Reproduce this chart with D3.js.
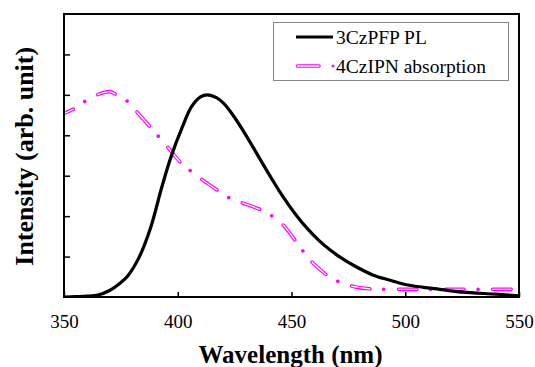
<!DOCTYPE html>
<html>
<head>
<meta charset="utf-8">
<script src="https://cdn.jsdelivr.net/npm/d3@7"></script>
</head>
<body style="margin:0;padding:0;background:#fff">
<svg id="chart" width="535" height="367" style="display:block;font-family:'Times New Roman','Liberation Serif',Times"></svg>
<script>
// ---- data ----
const plWavelength = [350, 355, 360, 365, 370, 375, 378, 383, 388, 393, 397, 402, 406, 410, 413, 417, 420, 424, 430, 437, 442, 445, 452, 457, 462, 467, 471, 478, 486, 493, 500, 508, 515, 525, 540, 550];
const plIntensity  = [0.0, 0.01, 0.02, 0.05, 0.16, 0.36, 0.52, 0.98, 1.70, 2.72, 3.46, 4.2, 4.7, 4.95, 5.0, 4.93, 4.8, 4.52, 4.0, 3.33, 2.86, 2.59, 2.03, 1.69, 1.40, 1.16, 1.00, 0.76, 0.54, 0.42, 0.31, 0.24, 0.19, 0.12, 0.07, 0.03];
const absWavelength = [350, 355.6, 360, 364.6, 370, 374, 378.6, 382, 388.5, 392, 396, 402, 406.6, 411, 417, 423.7, 428.8, 438.4, 442.7, 447, 453, 456.4, 460.3, 467.7, 472.8, 478, 485, 495, 550];
const absIntensity  = [4.54, 4.69, 4.87, 5.0, 5.08, 4.97, 4.81, 4.58, 4.17, 3.94, 3.68, 3.28, 3.08, 2.89, 2.66, 2.42, 2.32, 2.11, 1.95, 1.74, 1.29, 1.04, 0.79, 0.46, 0.34, 0.25, 0.2, 0.19, 0.19];
const xTicks = [350, 400, 450, 500, 550];
const yTicks = [1, 2, 3, 4, 5, 6];
const seriesNames = ["3CzPFP PL", "4CzIPN absorption"];
const xTitle = "Wavelength (nm)";
const yTitle = "Intensity (arb. unit)";

// ---- layout ----
const FONT = "\"Times New Roman\", \"Liberation Serif\", Times";
const svg = d3.select("#chart");
const L = 64, R = 519, T = 14, B = 297;
const x = d3.scaleLinear().domain([350, 550]).range([L, R]);
const y = d3.scaleLinear().domain([0, 7]).range([B, T]);
const MAG = "#ff00ff";

// hollow dash-dot style
const outerW = 3.6, innerW = 1.3;
const dashD = 18.4, g1 = 13.8, g2 = 14.8;
const outerDash = `${dashD},${g1},0.01,${g2}`;
const innerDash = `${dashD},${g1 + 0.01 + g2}`;

const line = d3.line().x(d => x(d[0])).y(d => y(d[1])).curve(d3.curveCatmullRom.alpha(0.5));
const absData = absWavelength.map((w, i) => [w, absIntensity[i]]);
const plData = plWavelength.map((w, i) => [w, plIntensity[i]]);

// titles and legend text first
svg.append("text").attr("x", (L + R) / 2 - 1).attr("y", 363).attr("text-anchor", "middle")
  .attr("font-size", 25).style("font-family", FONT).style("font-weight", "bold").text(xTitle);
svg.append("text").attr("transform", `translate(33,156.3) rotate(-90)`).attr("text-anchor", "middle")
  .attr("font-size", 26).style("font-family", FONT).style("font-weight", "bold").text(yTitle);

svg.append("clipPath").attr("id", "plotclip").append("rect")
  .attr("x", L).attr("y", T - 2).attr("width", R - L).attr("height", B - T + 2);

const g = svg.append("g").attr("clip-path", "url(#plotclip)");
g.append("path").attr("d", line(absData)).attr("fill", "none")
  .attr("stroke", MAG).attr("stroke-width", outerW).attr("stroke-linecap", "round")
  .attr("stroke-dasharray", outerDash).attr("stroke-dashoffset", 8.2);
g.append("path").attr("d", line(absData)).attr("fill", "none")
  .attr("stroke", "#fff").attr("stroke-width", innerW).attr("stroke-linecap", "round")
  .attr("stroke-dasharray", innerDash).attr("stroke-dashoffset", 8.2);
g.append("path").attr("d", line(plData)).attr("fill", "none")
  .attr("stroke", "#000").attr("stroke-width", 3.2).attr("stroke-linejoin", "round");

// ---- axes ----
const xAxis = d3.axisBottom(x).tickValues(xTicks).tickSize(-5).tickFormat(d3.format("d"));
const yAxis = d3.axisLeft(y).tickValues(yTicks).tickSize(-6).tickFormat("");
const gx = svg.append("g").attr("transform", `translate(0,${B})`).call(xAxis);
gx.attr("font-family", null).attr("font-size", null);
gx.select(".domain").remove();
gx.selectAll("line").attr("stroke", "#000").attr("stroke-width", 1.5);
gx.selectAll("text").attr("font-size", 19).style("font-family", FONT)
  .attr("fill", "#000").attr("dy", null).attr("y", 30.5);
const gy = svg.append("g").attr("transform", `translate(${L},0)`).call(yAxis);
gy.select(".domain").remove();
gy.selectAll("line").attr("stroke", "#000").attr("stroke-width", 1.5);

// frame
svg.append("rect").attr("x", L).attr("y", T).attr("width", R - L).attr("height", B - T)
  .attr("fill", "none").attr("stroke", "#000").attr("stroke-width", 2);

// ---- legend ----
const lg = svg.append("g");
lg.append("rect").attr("x", 273.5).attr("y", 22.5).attr("width", 235).attr("height", 58)
  .attr("fill", "#fff").attr("stroke", "#888").attr("stroke-width", 1);
lg.append("line").attr("x1", 296).attr("x2", 333).attr("y1", 37).attr("y2", 37)
  .attr("stroke", "#000").attr("stroke-width", 3.2);
lg.append("line").attr("x1", 297.5).attr("x2", 319).attr("y1", 66).attr("y2", 66)
  .attr("stroke", MAG).attr("stroke-width", outerW).attr("stroke-linecap", "round");
lg.append("line").attr("x1", 297.5).attr("x2", 319).attr("y1", 66).attr("y2", 66)
  .attr("stroke", "#fff").attr("stroke-width", innerW).attr("stroke-linecap", "round");
lg.append("circle").attr("cx", 333).attr("cy", 66).attr("r", 1.5).attr("fill", MAG);
lg.append("text").attr("x", 336).attr("y", 43.5).attr("font-size", 19.5).style("font-family", FONT).text(seriesNames[0]);
lg.append("text").attr("x", 336).attr("y", 73).attr("font-size", 19.5).style("font-family", FONT).text(seriesNames[1]);
</script>
</body>
</html>
